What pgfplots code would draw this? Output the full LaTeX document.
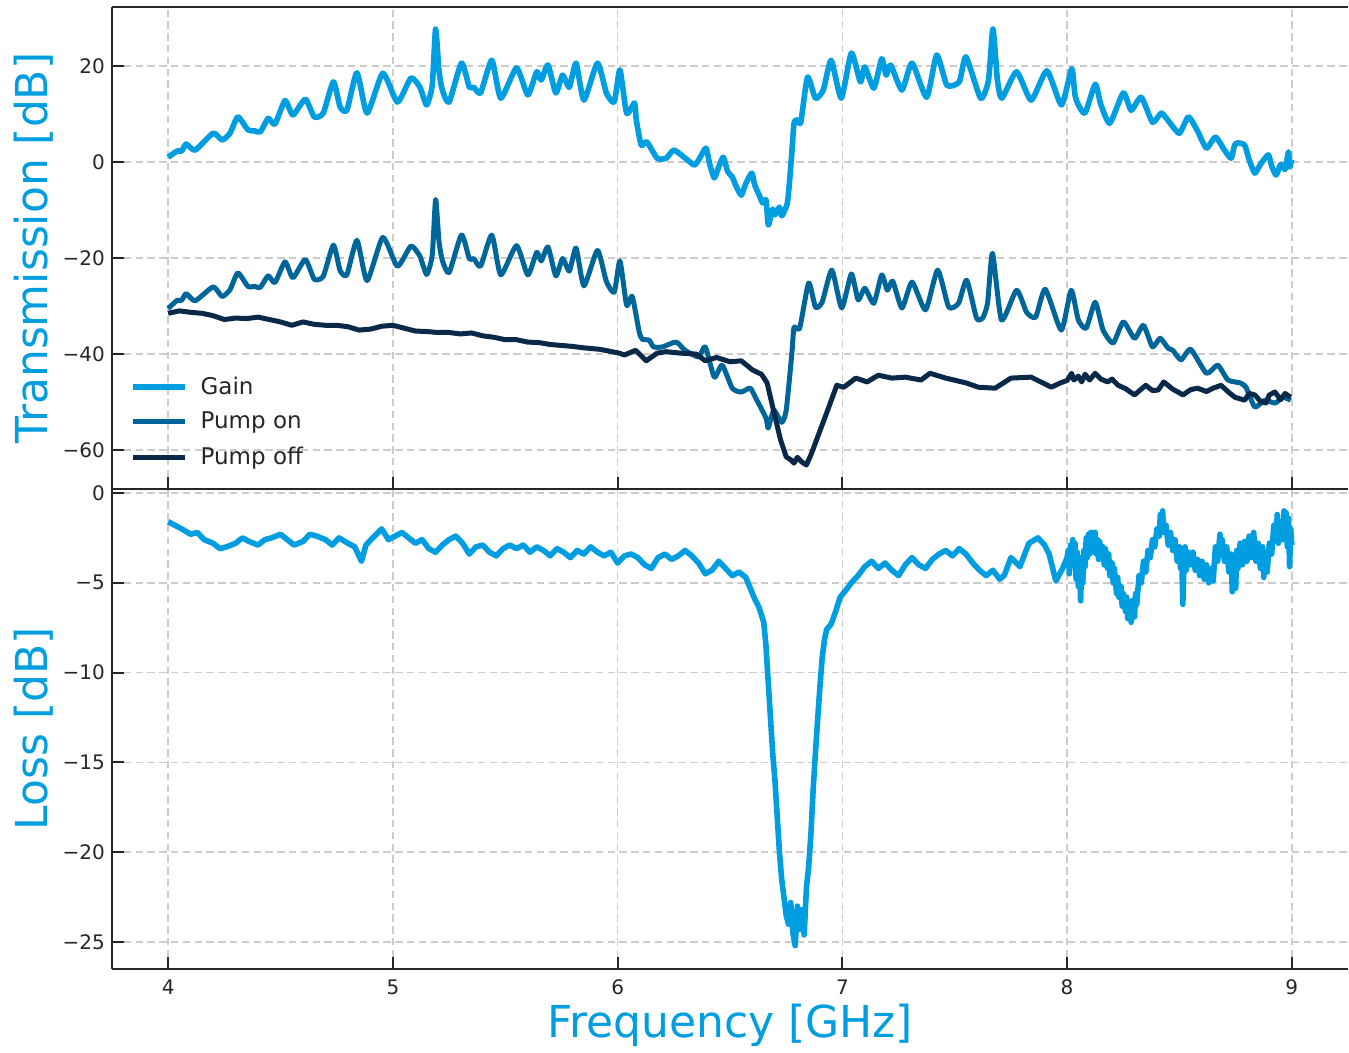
\documentclass[border=0pt]{standalone}
\usepackage{fontspec}
\setmainfont{DejaVu Sans}
\usepackage{pgfplots}
\pgfplotsset{compat=1.18}
\definecolor{gaincol}{RGB}{0,158,224}
\definecolor{oncol}{RGB}{0,102,153}
\definecolor{offcol}{RGB}{10,40,72}
\definecolor{axcol}{RGB}{38,38,38}
\definecolor{gridcol}{RGB}{204,204,204}
\pgfplotsset{
  base/.style={
    scale only axis, width=618pt,
    xmin=3.75, xmax=9.25,
    xtick={4,5,6,7,8,9},
    separate axis lines,
    axis x line*=box, axis y line*=left,
    axis line style={-, line width=1pt, color=axcol},
    tick align=inside, major tick length=6pt,
    tick style={line width=1pt, color=axcol},
    xtick pos=left, ytick pos=left,
    grid=major,
    major grid style={line width=0.8pt, color=gridcol, dash pattern=on 3.7pt off 2.2pt},
    tick label style={font=\fontsize{10}{12}\selectfont, color=axcol},
    /pgf/number format/assume math mode=true,
    label style={font=\fontsize{22}{26}\selectfont, color=gaincol},
    ylabel style={at={(axis description cs:-0.0518,0.5)}, anchor=base, rotate=0},
    clip=true,
  }
}
\begin{document}
\begin{tikzpicture}
\begin{axis}[base, name=top, height=241pt,
  ymin=-68.1, ymax=32.3,
  ytick={-60,-40,-20,0,20},
  yticklabels={−60,−40,−20,0,20},
  xticklabels={},
  ylabel={Transmission [dB]},
  legend style={draw=none, fill=none, at={(0.0143,0.0358)}, anchor=south west,
    font=\fontsize{11.5}{13}\selectfont, text=axcol, row sep=3.5pt, inner sep=0pt},
  legend cell align=left,
  legend image code/.code={\draw[#1] (0pt,0pt) -- (26pt,0pt); \path (30.5pt,0pt);},
]
\addplot[gaincol, line width=2.8pt, line join=round, smooth, tension=0.35] table {
4.00 1.0
4.04 2.3
4.06 2.3
4.08 3.75
4.12 2.5
4.20 6.0
4.24 4.6
4.275 6.0
4.31 9.4
4.355 6.7
4.385 6.5
4.41 6.3
4.445 9.1
4.475 7.9
4.52 12.8
4.555 9.8
4.61 13.1
4.65 9.4
4.69 10.2
4.735 16.7
4.765 11.5
4.795 10.8
4.84 18.6
4.885 10.2
4.955 18.5
5.02 12.5
5.08 17.5
5.12 15.6
5.15 11.9
5.175 16.0
5.19 27.7
5.205 19.0
5.22 15.0
5.25 12.5
5.305 20.6
5.34 15.6
5.36 15.6
5.39 14.4
5.44 21.2
5.48 13.3
5.55 19.6
5.60 14.0
5.64 18.8
5.66 17.1
5.69 20.2
5.725 14.4
5.755 18.1
5.785 15.6
5.815 20.6
5.85 12.9
5.91 20.6
5.95 14.4
5.985 12.5
6.01 19.2
6.04 10.2
6.075 12.3
6.083 8.75
6.105 3.5
6.13 4.2
6.176 0.8
6.216 0.8
6.25 2.5
6.296 1.0
6.34 -0.6
6.36 0.4
6.393 2.9
6.41 -0.5
6.43 -3.3
6.45 -1.0
6.47 1.0
6.49 -2.0
6.51 -3.1
6.525 -4.8
6.55 -6.9
6.57 -4.5
6.597 -2.3
6.61 -4.8
6.63 -6.9
6.645 -8.5
6.66 -7.9
6.67 -13.1
6.68 -11.5
6.69 -9.8
6.70 -11.0
6.72 -9.4
6.73 -11.2
6.74 -10.4
6.755 -8.6
6.765 -4.0
6.775 1.9
6.785 8.1
6.80 8.8
6.815 8.3
6.845 17.7
6.88 13.3
6.915 15.0
6.95 21.2
6.995 13.3
7.04 22.7
7.08 16.7
7.10 19.8
7.14 15.4
7.175 21.5
7.195 18.1
7.215 20.2
7.265 15.0
7.31 20.6
7.375 13.5
7.42 22.3
7.465 16.0
7.52 16.7
7.55 21.9
7.615 13.3
7.65 17.0
7.67 27.7
7.69 17.0
7.71 13.3
7.775 18.8
7.84 12.9
7.91 19.0
7.975 11.9
8.02 19.4
8.035 14.0
8.05 11.9
8.08 10.2
8.125 16.2
8.15 12.0
8.19 8.1
8.25 14.4
8.285 10.8
8.33 13.5
8.38 8.3
8.42 10.2
8.46 8.0
8.50 6.0
8.54 9.4
8.58 6.5
8.62 2.9
8.66 5.2
8.70 2.5
8.73 0.8
8.745 3.5
8.76 4.0
8.79 3.5
8.81 0.5
8.835 -2.3
8.86 -0.5
8.895 1.5
8.91 -0.8
8.93 -2.7
8.95 -0.5
8.97 -1.5
8.985 2.1
8.99 -1.0
9.00 0.5
};
\addlegendentry{Gain}
\addplot[oncol, line width=2.5pt, line join=round, smooth, tension=0.35] table {
4.00 -30.5
4.04 -28.8
4.06 -28.8
4.08 -27.4
4.12 -28.9
4.20 -26.0
4.24 -28.0
4.275 -26.6
4.31 -23.1
4.355 -25.9
4.385 -25.9
4.41 -26.1
4.445 -23.7
4.475 -25.1
4.52 -20.8
4.555 -24.1
4.61 -20.3
4.65 -24.4
4.69 -23.8
4.735 -17.3
4.765 -22.6
4.795 -23.5
4.84 -16.3
4.885 -24.7
4.955 -15.7
5.02 -21.7
5.08 -17.5
5.12 -19.6
5.15 -23.4
5.175 -19.4
5.19 -7.8
5.205 -16.5
5.22 -20.5
5.25 -23.0
5.305 -15.2
5.34 -20.1
5.36 -20.1
5.39 -21.7
5.44 -15.2
5.48 -23.5
5.55 -17.4
5.60 -23.5
5.64 -18.8
5.66 -20.6
5.69 -17.7
5.725 -23.7
5.755 -20.1
5.785 -22.7
5.815 -17.9
5.85 -25.8
5.91 -18.4
5.95 -24.9
5.985 -27.1
6.01 -20.6
6.04 -29.8
6.065 -28.0
6.096 -35.4
6.11 -36.9
6.14 -37.1
6.16 -38.5
6.20 -38.5
6.26 -37.5
6.30 -39.2
6.36 -40.6
6.39 -38.5
6.43 -44.8
6.465 -42.3
6.51 -47.1
6.55 -47.9
6.59 -47.1
6.615 -49.2
6.66 -53.3
6.67 -55.4
6.695 -51.7
6.73 -54.2
6.75 -51.7
6.775 -40.0
6.785 -34.4
6.81 -34.6
6.85 -25.2
6.88 -30.2
6.91 -29.2
6.953 -22.5
6.997 -30.4
7.04 -23.3
7.07 -28.7
7.10 -26.3
7.14 -29.4
7.175 -23.5
7.20 -26.7
7.224 -24.8
7.265 -30.4
7.31 -25.0
7.37 -30.8
7.424 -22.5
7.473 -30.2
7.517 -29.4
7.553 -24.6
7.597 -32.5
7.624 -32.5
7.646 -29.4
7.668 -19.0
7.708 -32.9
7.775 -26.7
7.82 -31.3
7.86 -32.3
7.903 -26.5
7.974 -35.0
8.018 -26.7
8.05 -32.9
8.085 -34.6
8.125 -29.2
8.16 -35.0
8.205 -37.7
8.25 -33.3
8.30 -36.7
8.34 -34.0
8.38 -38.5
8.414 -36.7
8.45 -38.8
8.47 -39.2
8.507 -41.2
8.55 -39.0
8.62 -44.0
8.67 -42.3
8.716 -45.4
8.77 -46.0
8.796 -46.9
8.835 -51.0
8.88 -49.6
8.925 -50.2
8.96 -49.0
8.995 -49.6
};
\addlegendentry{Pump on}
\addplot[offcol, line width=2.5pt, line join=round] table {
4.00 -31.5
4.05 -31.0
4.10 -31.3
4.15 -31.5
4.20 -32.0
4.25 -32.8
4.30 -32.5
4.35 -32.6
4.40 -32.3
4.45 -32.8
4.50 -33.3
4.55 -34.0
4.60 -33.3
4.65 -33.8
4.70 -34.0
4.75 -34.0
4.80 -34.3
4.85 -35.0
4.90 -34.8
4.95 -34.2
5.00 -34.0
5.05 -34.6
5.10 -35.2
5.15 -35.3
5.20 -35.5
5.25 -35.5
5.30 -35.8
5.35 -35.6
5.40 -36.2
5.45 -36.5
5.50 -37.0
5.55 -37.0
5.60 -37.5
5.65 -37.6
5.70 -38.0
5.75 -38.2
5.80 -38.4
5.85 -38.7
5.92 -39.0
6.007 -39.8
6.03 -40.2
6.08 -39.2
6.127 -41.4
6.176 -39.8
6.216 -39.5
6.28 -39.8
6.35 -40.0
6.39 -41.4
6.44 -40.7
6.50 -41.6
6.55 -41.4
6.60 -43.3
6.64 -44.2
6.665 -46.0
6.69 -51.0
6.725 -57.9
6.75 -61.4
6.77 -62.0
6.785 -62.7
6.80 -61.5
6.82 -62.5
6.84 -63.1
6.86 -61.0
6.88 -58.5
6.94 -51.0
6.975 -46.5
7.006 -46.9
7.06 -45.0
7.11 -45.8
7.16 -44.4
7.22 -45.0
7.28 -44.8
7.35 -45.4
7.39 -44.0
7.46 -45.0
7.55 -46.0
7.605 -46.9
7.68 -47.1
7.75 -45.0
7.84 -44.8
7.93 -46.9
7.97 -46.0
8.00 -45.5
8.02 -44.0
8.03 -45.4
8.05 -44.6
8.065 -45.8
8.08 -44.2
8.10 -45.4
8.125 -44.0
8.15 -45.2
8.18 -45.8
8.20 -45.2
8.227 -46.5
8.26 -47.2
8.30 -48.5
8.35 -46.5
8.38 -47.6
8.405 -47.5
8.43 -45.8
8.47 -47.3
8.516 -48.5
8.55 -47.4
8.58 -47.1
8.62 -47.8
8.65 -47.1
8.685 -46.5
8.72 -48.0
8.747 -49.0
8.79 -49.6
8.81 -48.2
8.835 -48.5
8.86 -49.8
8.885 -50.2
8.90 -48.5
8.925 -47.9
8.95 -49.5
8.97 -48.2
8.995 -49.0
};
\addlegendentry{Pump off}
\end{axis}
\begin{axis}[base, at={(top.south west)}, anchor=north west, height=240pt,
  ymin=-26.5, ymax=0.22,
  ytick={-25,-20,-15,-10,-5,0},
  yticklabels={−25,−20,−15,−10,−5,0},
  xticklabel style={yshift=-2pt},
  xlabel={Frequency [GHz]},
  xlabel style={at={(axis description cs:0.5,0)}, anchor=base, yshift=-34pt},
  ylabel={Loss [dB]},
]
\addplot[gaincol, line width=2.8pt, line join=round] table {
4.00 -1.6
4.03 -1.8
4.06 -2.0
4.10 -2.3
4.13 -2.2
4.16 -2.6
4.20 -2.8
4.23 -3.1
4.26 -3.0
4.30 -2.8
4.33 -2.5
4.36 -2.7
4.40 -2.9
4.43 -2.6
4.46 -2.5
4.50 -2.3
4.53 -2.6
4.56 -2.9
4.60 -2.7
4.63 -2.3
4.66 -2.4
4.70 -2.6
4.73 -2.9
4.76 -2.5
4.80 -2.8
4.83 -3.0
4.86 -3.8
4.88 -2.9
4.91 -2.5
4.95 -2.0
4.98 -2.6
5.01 -2.4
5.04 -2.2
5.07 -2.5
5.10 -2.8
5.13 -2.6
5.16 -3.1
5.19 -3.3
5.22 -2.9
5.25 -2.6
5.28 -2.4
5.31 -2.8
5.34 -3.4
5.37 -3.0
5.40 -2.9
5.43 -3.3
5.46 -3.5
5.49 -3.1
5.52 -2.9
5.55 -3.1
5.58 -2.9
5.61 -3.3
5.64 -3.0
5.67 -3.2
5.70 -3.5
5.73 -3.1
5.76 -3.3
5.79 -3.6
5.82 -3.2
5.85 -3.4
5.88 -3.0
5.91 -3.3
5.94 -3.5
5.97 -3.3
6.00 -3.9
6.03 -3.5
6.06 -3.4
6.09 -3.6
6.12 -4.0
6.15 -4.2
6.18 -3.6
6.21 -3.4
6.24 -3.7
6.27 -3.5
6.30 -3.2
6.33 -3.5
6.36 -3.9
6.39 -4.5
6.42 -4.3
6.45 -3.8
6.48 -4.2
6.51 -4.6
6.54 -4.4
6.57 -4.7
6.59 -5.3
6.61 -5.9
6.63 -6.4
6.65 -7.2
6.66 -8.5
6.67 -10.5
6.68 -12.5
6.69 -14.5
6.70 -16.0
6.71 -18.0
6.72 -20.0
6.73 -21.5
6.74 -22.5
6.75 -23.5
6.76 -24.0
6.77 -22.8
6.78 -24.5
6.79 -25.2
6.80 -23.0
6.81 -24.3
6.82 -23.2
6.83 -24.6
6.84 -22.0
6.85 -20.8
6.86 -19.0
6.87 -16.5
6.88 -14.5
6.89 -12.6
6.90 -10.8
6.91 -9.2
6.92 -8.2
6.93 -7.6
6.95 -7.3
6.97 -6.6
6.99 -5.8
7.01 -5.5
7.04 -5.0
7.07 -4.6
7.10 -4.1
7.13 -3.8
7.16 -4.2
7.19 -3.9
7.22 -4.3
7.25 -4.6
7.28 -4.0
7.31 -3.6
7.34 -4.0
7.37 -4.2
7.40 -3.7
7.43 -3.4
7.46 -3.2
7.49 -3.5
7.52 -3.1
7.55 -3.4
7.58 -3.9
7.61 -4.3
7.64 -4.6
7.67 -4.3
7.70 -4.8
7.72 -4.6
7.75 -3.6
7.79 -4.1
7.83 -2.8
7.87 -2.5
7.90 -2.9
7.92 -3.4
7.95 -4.9
7.98 -4.2
8.00 -3.6
8.005 -3.2
8.01 -4.5
8.015 -2.9
8.02 -4.0
8.025 -2.6
8.03 -3.9
8.035 -2.8
8.04 -4.8
8.045 -3.3
8.05 -5.2
8.055 -3.6
8.06 -6.0
8.065 -4.0
8.07 -5.0
8.075 -3.2
8.08 -4.1
8.085 -2.5
8.09 -3.6
8.095 -2.3
8.10 -3.4
8.105 -2.2
8.11 -3.3
8.115 -2.2
8.12 -3.0
8.125 -2.2
8.13 -3.4
8.135 -2.6
8.14 -3.7
8.145 -2.7
8.15 -3.6
8.16 -3.0
8.165 -4.0
8.17 -3.1
8.18 -4.2
8.185 -3.4
8.19 -4.6
8.20 -3.9
8.205 -5.0
8.21 -4.2
8.22 -5.6
8.225 -4.7
8.23 -5.8
8.24 -5.2
8.245 -6.3
8.25 -5.6
8.26 -6.6
8.265 -5.8
8.27 -7.0
8.28 -6.2
8.285 -7.2
8.29 -6.0
8.30 -6.9
8.305 -5.6
8.31 -6.2
8.32 -4.6
8.33 -5.0
8.34 -3.8
8.35 -4.4
8.36 -3.2
8.37 -3.6
8.38 -2.6
8.39 -3.0
8.40 -2.0
8.41 -2.4
8.415 -1.2
8.42 -1.6
8.425 -1.0
8.43 -2.2
8.44 -1.8
8.45 -2.9
8.46 -2.2
8.47 -3.2
8.48 -2.6
8.49 -3.8
8.50 -3.0
8.505 -4.2
8.51 -3.4
8.515 -6.2
8.52 -4.0
8.525 -3.0
8.53 -4.3
8.54 -3.3
8.55 -4.0
8.56 -3.3
8.57 -4.3
8.58 -3.7
8.59 -4.6
8.60 -3.8
8.61 -4.8
8.62 -4.0
8.63 -5.0
8.64 -4.2
8.65 -4.9
8.66 -3.0
8.67 -3.8
8.68 -2.3
8.685 -3.2
8.69 -2.6
8.70 -3.8
8.71 -3.0
8.72 -4.4
8.73 -3.4
8.735 -5.5
8.74 -4.0
8.75 -5.3
8.755 -3.2
8.76 -4.2
8.77 -2.8
8.78 -4.0
8.79 -2.7
8.80 -3.8
8.81 -2.4
8.82 -3.6
8.83 -2.2
8.84 -3.8
8.85 -2.8
8.86 -4.2
8.87 -3.0
8.875 -4.7
8.88 -3.4
8.89 -4.4
8.90 -2.8
8.91 -3.4
8.92 -1.8
8.93 -2.6
8.935 -1.2
8.94 -2.8
8.95 -1.6
8.96 -2.6
8.965 -1.0
8.97 -2.0
8.975 -1.1
8.98 -3.0
8.985 -1.4
8.99 -4.1
8.995 -2.0
9.00 -2.9
};
\end{axis}
\path (top.north west) ++(-56pt,3.5pt);
\end{tikzpicture}
\end{document}
